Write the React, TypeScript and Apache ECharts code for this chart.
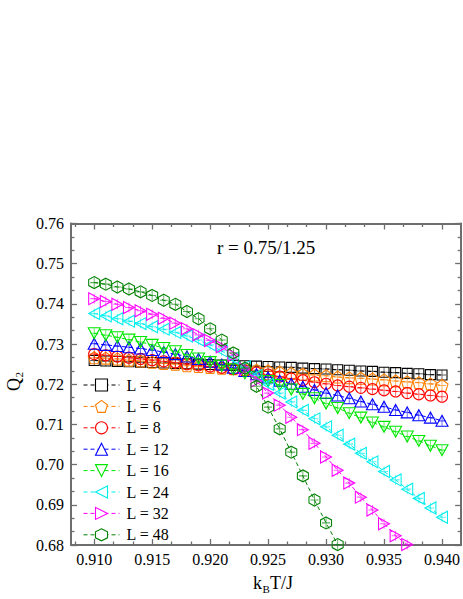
import React, { useEffect, useRef } from 'react';
import * as echarts from 'echarts';

// Temperature grid k_B T / J
const temperatures = [
  0.910, 0.911, 0.912, 0.913, 0.914, 0.915, 0.916, 0.917, 0.918, 0.919, 0.920,
  0.921, 0.922, 0.923, 0.924, 0.925, 0.926, 0.927, 0.928, 0.929, 0.930,
  0.931, 0.932, 0.933, 0.934, 0.935, 0.936, 0.937, 0.938, 0.939, 0.940,
];

const seriesNames = ['L = 4', 'L = 6', 'L = 8', 'L = 12', 'L = 16', 'L = 24', 'L = 32', 'L = 48'];

// Q2 for each lattice size
const q2L4 = [
  0.7259, 0.7258, 0.7257, 0.7256, 0.7255, 0.7254, 0.7253, 0.7252, 0.7251, 0.7250, 0.7249,
  0.7248, 0.7247, 0.7246, 0.7245, 0.7244, 0.7243, 0.7242, 0.7240, 0.7239, 0.7238,
  0.7236, 0.7235, 0.7233, 0.7232, 0.7230, 0.7229, 0.7227, 0.7226, 0.7224, 0.7223,
];
const q2L6 = [
  0.7266, 0.7265, 0.7263, 0.7260, 0.7258, 0.7255, 0.7252, 0.7250, 0.7246, 0.7244, 0.7242,
  0.7240, 0.7239, 0.7237, 0.7235, 0.7233, 0.7230, 0.7227, 0.7225, 0.7223, 0.7221,
  0.7218, 0.7216, 0.7215, 0.7213, 0.7211, 0.7208, 0.7206, 0.7204, 0.7201, 0.7197,
];
const q2L8 = [
  0.7275, 0.7272, 0.7269, 0.7266, 0.7263, 0.7260, 0.7257, 0.7254, 0.7250, 0.7247, 0.7244,
  0.7241, 0.7238, 0.7233, 0.7229, 0.7224, 0.7219, 0.7214, 0.7210, 0.7205, 0.7201,
  0.7197, 0.7194, 0.7191, 0.7188, 0.7185, 0.7182, 0.7178, 0.7175, 0.7172, 0.7169,
];
const q2L12 = [
  0.7301, 0.7298, 0.7295, 0.7292, 0.7289, 0.7285, 0.7280, 0.7275, 0.7269, 0.7263, 0.7256,
  0.7249, 0.7241, 0.7233, 0.7225, 0.7217, 0.7209, 0.7201, 0.7194, 0.7186, 0.7178,
  0.7172, 0.7165, 0.7157, 0.7150, 0.7144, 0.7136, 0.7130, 0.7123, 0.7117, 0.7109,
];
const q2L16 = [
  0.7327, 0.7322, 0.7317, 0.7311, 0.7305, 0.7298, 0.7290, 0.7282, 0.7273, 0.7264, 0.7255,
  0.7246, 0.7237, 0.7227, 0.7217, 0.7208, 0.7198, 0.7187, 0.7176, 0.7165, 0.7152,
  0.7141, 0.7128, 0.7117, 0.7105, 0.7094, 0.7082, 0.7070, 0.7059, 0.7047, 0.7036,
];
const q2L24 = [
  0.7376, 0.7370, 0.7363, 0.7357, 0.7351, 0.7343, 0.7337, 0.7329, 0.7320, 0.7310, 0.7298,
  0.7283, 0.7265, 0.7244, 0.7222, 0.7200, 0.7178, 0.7156, 0.7135, 0.7114, 0.7094,
  0.7073, 0.7051, 0.7028, 0.7007, 0.6983, 0.6962, 0.6939, 0.6916, 0.6892, 0.6869,
];
const q2L32 = [
  0.7413, 0.7406, 0.7399, 0.7391, 0.7383, 0.7374, 0.7364, 0.7352, 0.7338, 0.7323, 0.7309,
  0.7293, 0.7272, 0.7238, 0.7208, 0.7178, 0.7148, 0.7118, 0.7087, 0.7053, 0.7019,
  0.6986, 0.6954, 0.6919, 0.6887, 0.6853, 0.6823, 0.6801,
];
const q2L48 = [
  0.7453, 0.7449, 0.7442, 0.7437, 0.7430, 0.7421, 0.7409, 0.7399, 0.7381, 0.7363, 0.7338,
  0.7310, 0.7278, 0.7240, 0.7195, 0.7143, 0.7089, 0.7031, 0.6972, 0.6912, 0.6855,
  0.6801,
];

const xTickValues = [0.910, 0.915, 0.920, 0.925, 0.930, 0.935, 0.940];
const yTickValues = [0.68, 0.69, 0.70, 0.71, 0.72, 0.73, 0.74, 0.75, 0.76];
const annotation = 'r = 0.75/1.25';

const X_MIN = 0.908;
const X_MAX = 0.94165;
const Y_MIN = 0.68;
const Y_MAX = 0.76;

const FONT = "'Liberation Serif', 'Times New Roman', serif";
const AXIS_COLOR = '#6e6e6e';

// Marker outlines
const SQUARE = 'rect';
const PENTAGON = 'path://M5,0L9.755,3.455L7.939,9.045L2.061,9.045L0.245,3.455Z';
const CIRCLE = 'circle';
const TRI_UP = 'triangle';
const TRI_DOWN = 'path://M0,0L10,0L5,8.66Z';
const TRI_LEFT = 'path://M0,5L8.66,0L8.66,10Z';
const TRI_RIGHT = 'path://M0,0L8.66,5L0,10Z';
const HEXAGON = 'path://M4.33,0L8.66,2.5L8.66,7.5L4.33,10L0,7.5L0,2.5Z';
const CROSS = 'path://M0,5L10,5M5,0L5,10';

const styles = [
  { data: q2L4, color: '#000000', symbol: SQUARE, size: [10, 10] },
  { data: q2L6, color: '#ff8000', symbol: PENTAGON, size: [12, 12] },
  { data: q2L8, color: '#ff0000', symbol: CIRCLE, size: [11, 11] },
  { data: q2L12, color: '#0000ff', symbol: TRI_UP, size: [12, 11] },
  { data: q2L16, color: '#00e600', symbol: TRI_DOWN, size: [12, 11] },
  { data: q2L24, color: '#00eeee', symbol: TRI_LEFT, size: [11, 12] },
  { data: q2L32, color: '#ff00ff', symbol: TRI_RIGHT, size: [11, 12] },
  { data: q2L48, color: '#008000', symbol: HEXAGON, size: [11, 12] },
];

function minorTicks(major: number[], parts: number, lo: number, hi: number): number[] {
  const step = (major[1] - major[0]) / parts;
  const out: number[] = [];
  const start = major[0] - Math.floor((major[0] - lo) / step + 1e-9) * step;
  for (let i = 0; ; i++) {
    const v = start + i * step;
    if (v > hi + 1e-9) break;
    if (!major.some((m) => Math.abs(m - v) < step / 10)) out.push(v);
  }
  return out;
}

const xMinor = minorTicks(xTickValues, 3, X_MIN, X_MAX);
const yMinor = minorTicks(yTickValues, 3, Y_MIN, Y_MAX);

function makeAxis(
  kind: 'x' | 'y',
  position: string,
  ticks: number[],
  tickLen: number,
  withLine: boolean,
  withLabels: boolean,
) {
  const isX = kind === 'x';
  return {
    type: 'value',
    position,
    min: isX ? X_MIN : Y_MIN,
    max: isX ? X_MAX : Y_MAX,
    splitLine: { show: false },
    axisLine: {
      show: withLine,
      onZero: false,
      lineStyle: { color: AXIS_COLOR, width: 2 },
    },
    axisTick: {
      show: true,
      inside: true,
      length: tickLen,
      customValues: ticks,
      lineStyle: { color: AXIS_COLOR, width: 1.3 },
    },
    axisLabel: withLabels
      ? {
          show: true,
          customValues: ticks,
          formatter: (v: number) => v.toFixed(isX ? 3 : 2),
          color: '#000',
          fontFamily: FONT,
          fontSize: 16,
          margin: isX ? 6 : 7,
        }
      : { show: false },
  };
}

export default function App() {
  const ref = useRef<HTMLDivElement>(null);

  useEffect(() => {
    if (!ref.current) return;
    const chart = echarts.init(ref.current, null, { renderer: 'svg' });

    const series: any[] = [];
    styles.forEach((s, i) => {
      const pts = s.data.map((q, k) => [temperatures[k], q]);
      series.push({
        name: seriesNames[i],
        type: 'line',
        xAxisIndex: 0,
        yAxisIndex: 0,
        data: pts,
        symbol: s.symbol,
        symbolSize: s.size,
        showSymbol: true,
        clip: true,
        lineStyle: { color: s.color, width: 1, type: [4, 3] },
        itemStyle: { color: 'rgba(0,0,0,0)', borderColor: s.color, borderWidth: 1.1 },
        emphasis: { disabled: true },
        z: 2 + i * 0.01,
      });
      series.push({
        name: seriesNames[i] + ' error',
        type: 'scatter',
        xAxisIndex: 0,
        yAxisIndex: 0,
        data: pts,
        symbol: CROSS,
        symbolSize: [8, 10],
        clip: true,
        silent: true,
        itemStyle: { color: 'rgba(0,0,0,0)', borderColor: s.color, borderWidth: 1, opacity: 0.65 },
        emphasis: { disabled: true },
        z: 2 + i * 0.01 + 0.005,
      });
    });

    chart.setOption({
      animation: false,
      backgroundColor: '#ffffff',
      grid: { left: 71, top: 223.5, right: -1, bottom: 54, containLabel: false },
      xAxis: [
        makeAxis('x', 'bottom', xTickValues, 6, true, true),
        makeAxis('x', 'bottom', xMinor, 3.5, false, false),
        makeAxis('x', 'top', xTickValues, 6, true, false),
        makeAxis('x', 'top', xMinor, 3.5, false, false),
      ],
      yAxis: [
        makeAxis('y', 'left', yTickValues, 6, true, true),
        makeAxis('y', 'left', yMinor, 3.5, false, false),
        makeAxis('y', 'right', yTickValues, 6, true, false),
        makeAxis('y', 'right', yMinor, 3.5, false, false),
      ],
      legend: {
        data: seriesNames,
        orient: 'vertical',
        left: 83,
        top: 377,
        itemWidth: 36,
        itemHeight: 15,
        itemGap: 5.4,
        padding: 0,
        selectedMode: false,
        itemStyle: { color: '#ffffff', borderWidth: 1.1 },
        lineStyle: { width: 1 },
        textStyle: { fontFamily: FONT, fontSize: 16, color: '#000', lineHeight: 15, padding: [0, 0, 0, 2] },
      },
      graphic: [
        {
          type: 'text',
          x: 217,
          y: 247,
          style: {
            text: annotation,
            fontFamily: FONT,
            fontSize: 19,
            fill: '#000',
            verticalAlign: 'middle',
          },
        },
        {
          type: 'group',
          children: [
            { type: 'text', x: 253, y: 583, style: { text: 'k', fontFamily: FONT, fontSize: 18, fill: '#000', verticalAlign: 'middle' } },
            { type: 'text', x: 262.5, y: 589, style: { text: 'B', fontFamily: FONT, fontSize: 11, fill: '#000', verticalAlign: 'middle' } },
            { type: 'text', x: 270, y: 583, style: { text: 'T/J', fontFamily: FONT, fontSize: 18, fill: '#000', verticalAlign: 'middle' } },
          ],
        },
        {
          type: 'group',
          x: 14,
          y: 381,
          rotation: Math.PI / 2,
          children: [
            { type: 'text', x: -10, y: 0, style: { text: 'Q', fontFamily: FONT, fontSize: 18, fill: '#000', verticalAlign: 'middle' } },
            { type: 'text', x: 3.5, y: 5, style: { text: '2', fontFamily: FONT, fontSize: 11, fill: '#000', verticalAlign: 'middle' } },
          ],
        },
      ],
      series,
    });

    return () => chart.dispose();
  }, []);

  return (
    <div
      ref={ref}
      style={{ position: 'absolute', left: 0, top: 0, width: 463, height: 599 }}
    />
  );
}
